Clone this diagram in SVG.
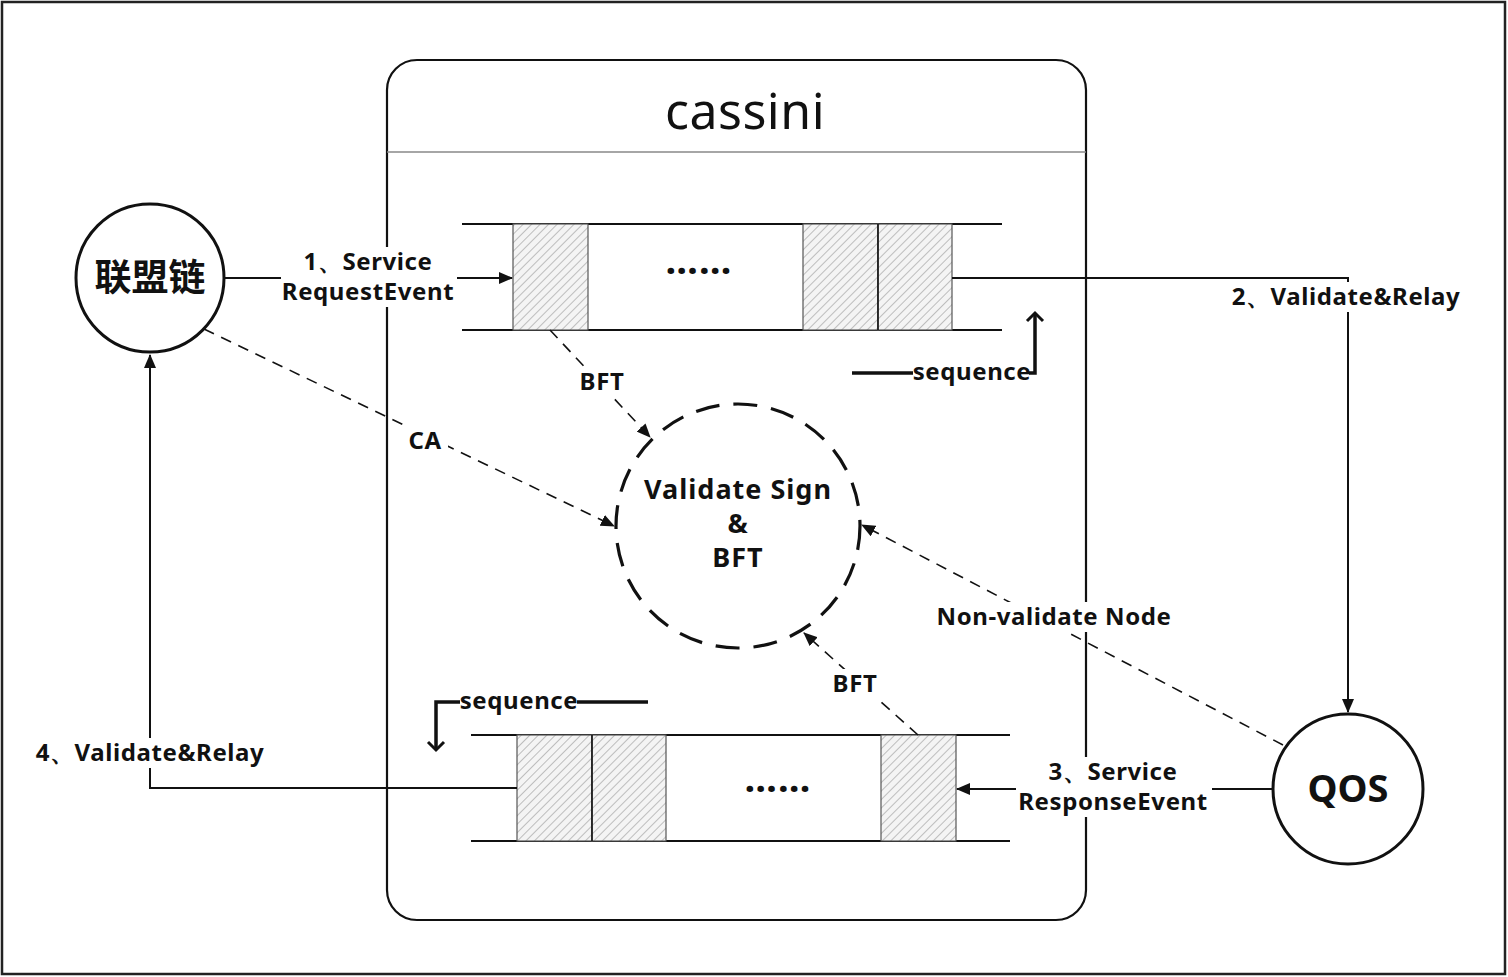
<svg xmlns="http://www.w3.org/2000/svg" width="1508" height="977" viewBox="0 0 1508 977">
<style>
.lbl{font-family:"Noto Sans","Liberation Sans",sans-serif;font-weight:bold;font-size:24px;letter-spacing:0.6px;fill:#111;text-anchor:middle}
.big{font-family:"Noto Sans","Noto Sans CJK SC",sans-serif;font-weight:bold;font-size:38px;fill:#111;text-anchor:middle}
.mid{font-size:27px;letter-spacing:1px}
.dots{font-size:38px;letter-spacing:1px}
.conn{stroke:#111;stroke-width:2;fill:none}
.dash{stroke:#111;stroke-width:1.6;fill:none;stroke-dasharray:11 8}
.qline{stroke:#111;stroke-width:2.2}
.cell{fill:url(#hatch);stroke:#555;stroke-width:1.2}
.seq{stroke:#111;stroke-width:3.5;fill:none}
.bg{fill:#fff}
</style>
<defs>
<pattern id="hatch" width="6" height="6" patternUnits="userSpaceOnUse" patternTransform="rotate(45)">
<rect width="6" height="6" fill="#f4f4f4"/>
<line x1="0" y1="0" x2="0" y2="6" stroke="#7a7a7a" stroke-width="0.9"/>
</pattern>
<marker id="arr" markerWidth="14" markerHeight="12" refX="13" refY="6" orient="auto" markerUnits="userSpaceOnUse">
<path d="M0,0 L14,6 L0,12 z" fill="#111"/>
</marker>
<marker id="open" markerWidth="20" markerHeight="20" refX="10" refY="10" orient="auto" markerUnits="userSpaceOnUse">
<path d="M2,2 L10,10 L2,18" fill="none" stroke="#111" stroke-width="3"/>
</marker>
</defs>
<rect width="1508" height="977" fill="#fff"/>
<rect x="2" y="2" width="1503" height="972" fill="none" stroke="#222" stroke-width="2.5"/>

<g id="cassini">
<rect x="387" y="60" width="699" height="860" rx="30" ry="30" fill="#fff" stroke="#111" stroke-width="2.2"/>
<line x1="387" y1="152" x2="1086" y2="152" stroke="#888" stroke-width="1.5"/>
<text x="745" y="129" style="font-family:'Noto Sans','Liberation Sans',sans-serif;font-size:50px;letter-spacing:0.5px" fill="#111" text-anchor="middle">cassini</text>
</g>

<g id="queue-top">
<line class="qline" x1="462" y1="224" x2="1002" y2="224"/>
<line class="qline" x1="462" y1="330" x2="1002" y2="330"/>
<rect class="cell" x="513" y="224" width="75" height="106"/>
<rect class="cell" x="803" y="224" width="75" height="106"/>
<rect class="cell" x="878" y="224" width="74" height="106"/>
<line x1="878" y1="224" x2="878" y2="330" stroke="#111" stroke-width="1.5"/>
<text x="699" y="274" class="lbl dots">……</text>
</g>

<g id="queue-bottom">
<line class="qline" x1="471" y1="735" x2="1010" y2="735"/>
<line class="qline" x1="471" y1="841" x2="1010" y2="841"/>
<rect class="cell" x="517" y="735" width="75" height="106"/>
<rect class="cell" x="592" y="735" width="74" height="106"/>
<line x1="592" y1="735" x2="592" y2="841" stroke="#111" stroke-width="1.5"/>
<rect class="cell" x="881" y="735" width="75" height="106"/>
<text x="778" y="792" class="lbl dots">……</text>
</g>

<g id="validate">
<circle cx="738" cy="526" r="122" fill="#fff" stroke="#111" stroke-width="3.2" stroke-dasharray="24 14"/>
<text x="738" y="499" class="lbl mid">Validate Sign</text>
<text x="738" y="533" class="lbl mid">&amp;</text>
<text x="738" y="567" class="lbl mid">BFT</text>
</g>

<g id="lianmeng">
<circle cx="150" cy="278" r="74" fill="#fff" stroke="#111" stroke-width="3"/>
<text x="150" y="291" class="big" style="font-family:'Noto Sans CJK SC',sans-serif;font-size:37px">联盟链</text>
</g>

<g id="qos">
<circle cx="1348" cy="789" r="75" fill="#fff" stroke="#111" stroke-width="3"/>
<text x="1348" y="802" class="big">QOS</text>
</g>

<g id="connectors">
<line class="conn" x1="224" y1="278" x2="512" y2="278" marker-end="url(#arr)"/>
<polyline class="conn" points="952,278 1348,278 1348,712" marker-end="url(#arr)"/>
<line class="conn" x1="1273" y1="789" x2="957" y2="789" marker-end="url(#arr)"/>
<polyline class="conn" points="517,788 150,788 150,355" marker-end="url(#arr)"/>
<line class="dash" x1="550" y1="330" x2="650" y2="437" marker-end="url(#arr)"/>
<line class="dash" x1="204" y1="329" x2="614" y2="526" marker-end="url(#arr)"/>
<line class="dash" x1="1283" y1="745" x2="862" y2="525" marker-end="url(#arr)"/>
<line class="dash" x1="918" y1="735" x2="804" y2="633" marker-end="url(#arr)"/>
<line class="seq" x1="852" y1="373" x2="913" y2="373"/>
<polyline class="seq" points="1029,373 1035,373 1035,313" marker-end="url(#open)"/>
<polyline class="seq" points="460,702 436,702 436,750" marker-end="url(#open)"/>
<line class="seq" x1="577" y1="702" x2="648" y2="702"/>
</g>

<g id="labels">
<rect class="bg" x="281" y="247" width="176" height="60"/>
<text class="lbl" x="368" y="270">1、Service</text>
<text class="lbl" x="368" y="300">RequestEvent</text>
<rect class="bg" x="1226" y="282" width="242" height="30"/>
<text class="lbl" x="1346" y="305">2、Validate&amp;Relay</text>
<rect class="bg" x="1016" y="757" width="196" height="60"/>
<text class="lbl" x="1113" y="780">3、Service</text>
<text class="lbl" x="1113" y="810">ResponseEvent</text>
<rect class="bg" x="29" y="738" width="242" height="30"/>
<text class="lbl" x="150" y="761">4、Validate&amp;Relay</text>
<rect class="bg" x="576" y="367" width="54" height="30"/>
<text class="lbl" x="602" y="390">BFT</text>
<rect class="bg" x="402" y="426" width="46" height="30"/>
<text class="lbl" x="425" y="449">CA</text>
<rect class="bg" x="930" y="602" width="249" height="30"/>
<text class="lbl" x="1054" y="625">Non-validate Node</text>
<rect class="bg" x="828" y="669" width="54" height="30"/>
<text class="lbl" x="855" y="692">BFT</text>
<text class="lbl" x="972" y="380">sequence</text>
<text class="lbl" x="519" y="709">sequence</text>
</g>
</svg>
